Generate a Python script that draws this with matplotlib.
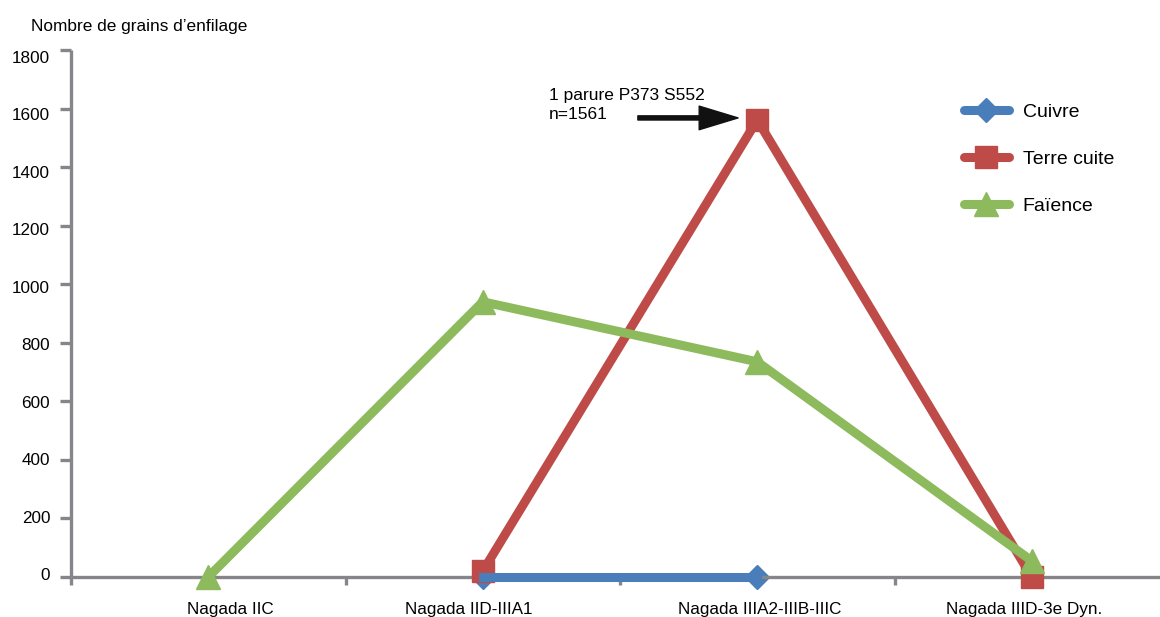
import numpy as np
import matplotlib
matplotlib.use('Agg')
import matplotlib.pyplot as plt
import matplotlib.transforms as mtransforms
from matplotlib.lines import Line2D

plt.rcParams['font.family'] = ['Liberation Sans', 'DejaVu Sans']

periods = ['Nagada IIC', 'Nagada IID-IIIA1', 'Nagada IIIA2-IIIB-IIIC', 'Nagada IIID-3e Dyn.']
cuivre = [np.nan, 0, 0, np.nan]
terre_cuite = [np.nan, 20, 1561, 0]
faience = [0, 940, 735, 55]

c_blue = '#4a7ebb'
c_red = '#be4b48'
c_green = '#8cba5c'
c_axis = '#86868a'

fig = plt.figure(figsize=(11.6, 6.17), dpi=100)
ax = fig.add_axes([71 / 1160, 40 / 617, 1089 / 1160, 527 / 617])

x = np.arange(len(periods))

# blue markers sit under the red squares, blue line above
ax.plot(x, cuivre, color=c_blue, lw=0, marker='D', ms=12, zorder=2, clip_on=False)
ax.plot(x, terre_cuite, color=c_red, lw=6.5, marker='s', ms=16, zorder=3, clip_on=False)
ax.plot(x, cuivre, color=c_blue, lw=6.5, zorder=4, clip_on=False)
ax.plot(x, faience, color=c_green, lw=6.5, marker='^', ms=17, zorder=5, clip_on=False)

ax.set_xlim(-0.5, 3.467)
ax.set_ylim(0, 1800)

for s in ['top', 'right']:
    ax.spines[s].set_visible(False)
for s in ['left', 'bottom']:
    ax.spines[s].set_color(c_axis)
    ax.spines[s].set_linewidth(2.4)
    ax.spines[s].set_capstyle('butt')

yt = np.arange(0, 1801, 200)
ax.set_yticks(yt)
ax.tick_params(axis='y', length=8, width=2.4, color=c_axis, pad=7, labelsize=12.3)
# labels in the original drift a little from their ticks
for v, lab in zip(yt, ax.get_yticklabels()):
    dy = (3 - 10 * v / 1800) / 100
    lab.set_transform(lab.get_transform() + mtransforms.ScaledTranslation(0, dy, fig.dpi_scale_trans))

ax.set_xticks(np.arange(-0.5, 3.5, 1.0))
ax.set_xticklabels([])
ax.tick_params(axis='x', which='major', length=6, width=2.4, color=c_axis)
ax.set_xticks(x, minor=True)
ax.set_xticklabels(periods, minor=True)
ax.tick_params(axis='x', which='minor', length=0, pad=18, labelsize=12.3)
for dx, lab in zip([22, -14, 2, -8], ax.get_xticklabels(minor=True)):
    lab.set_transform(lab.get_transform() + mtransforms.ScaledTranslation(dx / 100, 0, fig.dpi_scale_trans))

fig.text(31 / 1160, 1 - 27 / 617, "Nombre de grains d\u2019enfilage", fontsize=12.4,
         ha='left', va='center')

ax.annotate('', xy=(1.93, 1568), xytext=(1.565, 1568),
            arrowprops=dict(facecolor='#111111', edgecolor='#111111',
                            width=3, headwidth=17, headlength=28, shrink=0))
ax.text(1.24, 1612, '1 parure P373 S552\nn=1561', fontsize=12.5, ha='left',
        va='center', linespacing=1.3)

handles = [
    Line2D([], [], color=c_blue, lw=6.5, marker='D', ms=12, solid_capstyle='round'),
    Line2D([], [], color=c_red, lw=6.5, marker='s', ms=16, solid_capstyle='round'),
    Line2D([], [], color=c_green, lw=6.5, marker='^', ms=17, solid_capstyle='round'),
]
fig.legend(handles, ['Cuivre', 'Terre cuite', 'Fa\u00efence'], loc='upper left',
           bbox_to_anchor=(946 / 1160, 1 - 86 / 617), frameon=False, fontsize=14,
           handlelength=2.35, labelspacing=1.5, handletextpad=0.7)

fig.savefig('out.png', dpi=100)
